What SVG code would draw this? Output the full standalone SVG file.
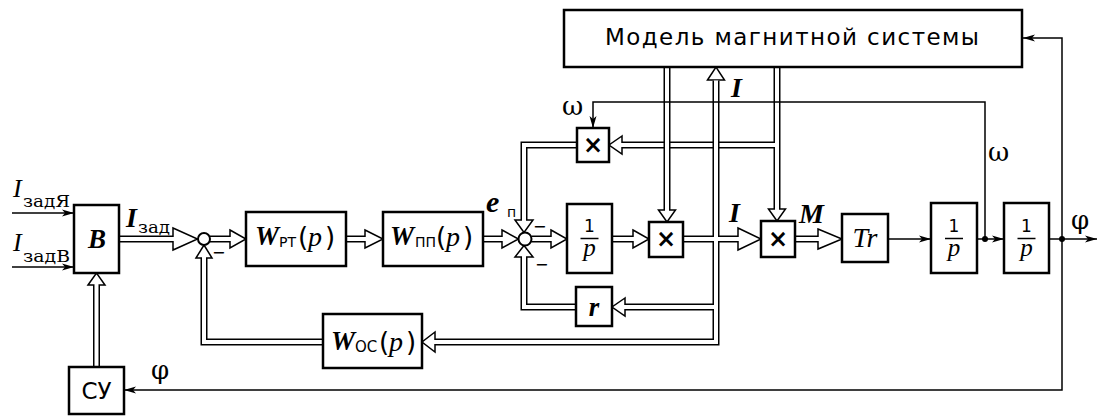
<svg xmlns="http://www.w3.org/2000/svg" width="1099" height="416" viewBox="0 0 1099 416">
<defs>
<marker id="ah" markerUnits="userSpaceOnUse" markerWidth="13" markerHeight="8" refX="12" refY="4" orient="auto">
<path d="M0,0.5 L12,4 L0,7.5 L3,4 z" fill="#000"/>
</marker>
</defs>
<style>
.bx{fill:#fff;stroke:#000;stroke-width:2.5}
.o{fill:none;stroke:#000;stroke-width:7}
.i{fill:none;stroke:#fff;stroke-width:4}
.h{fill:#fff;stroke:#000;stroke-width:1.5;stroke-linejoin:miter}
.s{fill:none;stroke:#000;stroke-width:1.5}
.sum{fill:#fff;stroke:#000;stroke-width:2}
.dot{fill:#000}
text{fill:#000}
.bi{font-family:"Liberation Serif",serif;font-weight:bold;font-style:italic;font-size:26px}
.it{font-family:"Liberation Serif",serif;font-style:italic;font-size:26px}
.sr{font-family:"DejaVu Serif",serif;font-size:17px}
.gr{font-family:"DejaVu Serif",serif;font-size:26px}
.sn{font-family:"DejaVu Sans",sans-serif}
.sub{font-family:"DejaVu Sans",sans-serif;font-size:14px}
.par{font-family:"DejaVu Sans",sans-serif;font-size:26px}
.x{font-family:"DejaVu Sans",sans-serif;font-weight:bold;font-size:24px;text-anchor:middle}
.one{font-family:"DejaVu Sans",sans-serif;font-size:17px;text-anchor:middle}
.pp{font-family:"Liberation Serif",serif;font-style:italic;font-size:25px;text-anchor:middle}
.mn{font-family:"DejaVu Sans",sans-serif;font-size:16px}
</style>
<rect width="1099" height="416" fill="#fff"/>

<g id="connectors">
  <g id="c-b-sum1"><path class="o" d="M119,239 H174"/><polygon class="h" points="173,228 197.5,239 173,250"/><path class="i" d="M119,239 H174.5"/></g>
  <g id="c-sum1-wrt"><path class="o" d="M210,239 H231"/><polygon class="h" points="230,230 246,239 230,248"/><path class="i" d="M210,239 H231.5"/></g>
  <g id="c-wrt-wpp"><path class="o" d="M346,239 H366"/><polygon class="h" points="365,230 383,239 365,248"/><path class="i" d="M346,239 H366.5"/></g>
  <g id="c-wpp-sum2"><path class="o" d="M483,239 H503"/><polygon class="h" points="502,230 518.5,239 502,248"/><path class="i" d="M483,239 H503.5"/></g>
  <g id="c-sum2-int"><path class="o" d="M531.5,239 H552"/><polygon class="h" points="551,230 567,239 551,248"/><path class="i" d="M531.5,239 H552.5"/></g>
  <g id="c-int-xmid"><path class="o" d="M612,239 H634"/><polygon class="h" points="633,230 649,239 633,248"/><path class="i" d="M612,239 H634.5"/></g>
  <g id="c-r-sum2"><path class="o" d="M576,307 H524 V256"/><polygon class="h" points="515,257 524,245.5 533,257"/><path class="i" d="M576,307 H524 V255.5"/></g>
  <g id="c-xtop-sum2"><path class="o" d="M577,145 H524 V221"/><polygon class="h" points="515,220 524,232.5 533,220"/><path class="i" d="M577,145 H524 V221.5"/></g>
  <g id="c-woc-sum1"><path class="o" d="M323,342 H204 V257"/><polygon class="h" points="196,258 204,245 212,258"/><path class="i" d="M323,342 H204 V256.5"/></g>
  <g id="c-model-xright"><path class="o" d="M777,67 V210 M777,145 H621"/><polygon class="h" points="768.5,209 777,221 785.5,209"/><polygon class="h" points="622,136 609,145 622,154"/><path class="i" d="M777,66 V210.5 M777,145 H620.5"/></g>
  <g id="c-model-xmid"><path class="o" d="M667,67 V211"/><polygon class="h" points="658.5,210 667,222 675.5,210"/><path class="i" d="M667,66 V211.5"/></g>
  <g id="c-i-tree"><path class="o" d="M683,239 H739 M716,81 V342 H434 M716,307 H624"/><polygon class="h" points="738,228 761,239 738,250"/><polygon class="h" points="707.5,80 716,67 724.5,80"/><polygon class="h" points="435,332 422,342 435,352"/><polygon class="h" points="625,298 612,307 625,316"/><path class="i" d="M683,239 H739.5 M716,80.5 V342 H433.5 M716,307 H623.5"/></g>
  <g id="c-xright-tr"><path class="o" d="M795,239 H819"/><polygon class="h" points="818,229 842,239 818,249"/><path class="i" d="M795,239 H819.5"/></g>
  <g id="c-su-b"><path class="o" d="M96.5,367 V284"/><polygon class="h" points="88,285 96.5,273 105,285"/><path class="i" d="M96.5,367 V283.5"/></g>
  <path class="s" marker-end="url(#ah)" d="M12,213 H74"/>
  <path class="s" marker-end="url(#ah)" d="M12,267 H74"/>
  <path class="s" marker-end="url(#ah)" d="M1062,239 V38 H1023"/>
  <path class="s" marker-end="url(#ah)" d="M1062,239 V390 H124"/>
  <path class="s" marker-end="url(#ah)" d="M888,239 H931"/>
  <path class="s" marker-end="url(#ah)" d="M977,239 H1004"/>
  <path class="s" marker-end="url(#ah)" d="M1049,239 H1097"/>
  <path class="s" marker-end="url(#ah)" d="M985,239 V102 H593 V128"/>
  <circle class="dot" cx="985" cy="239" r="3"/>
  <circle class="dot" cx="1062" cy="239" r="3"/>
</g>

<g id="labels">
  <text class="it" x="13" y="197">I</text><text class="sr" x="23" y="207" textLength="47" lengthAdjust="spacingAndGlyphs">задЯ</text>
  <text class="it" x="13" y="251">I</text><text class="sr" x="23" y="262" textLength="47" lengthAdjust="spacingAndGlyphs">задВ</text>
  <text class="bi" x="126" y="227" style="font-size:28px">I</text><text class="sr" x="138" y="233" textLength="32" lengthAdjust="spacingAndGlyphs">зад</text>
  <text class="bi" x="486" y="212" style="font-size:30px">e</text><text class="sub" x="507" y="217">п</text>
  <text class="bi" x="731" y="97" style="font-size:28px">I</text>
  <text class="bi" x="729" y="222" style="font-size:28px">I</text>
  <text class="bi" x="799" y="223" style="font-size:28px">M</text>
  <text class="gr" x="562" y="115">ω</text>
  <text class="gr" x="988" y="161">ω</text>
  <text class="gr" x="1071" y="229">φ</text>
  <text class="gr" x="151" y="379">φ</text>
  <text class="mn" x="212" y="258">−</text>
  <text class="mn" x="533" y="232">−</text>
  <text class="mn" x="535" y="270">−</text>
</g>

<g id="sum1"><circle class="sum" cx="204" cy="239" r="6"/></g>
<g id="sum2"><circle class="sum" cx="525" cy="239" r="6.5"/></g>

<g id="model">
  <rect class="bx" x="564" y="10" width="458" height="57"/>
  <text class="sn" x="605" y="45" style="font-size:23px" textLength="374" lengthAdjust="spacing">Модель магнитной системы</text>
</g>
<g id="B">
  <rect class="bx" x="74" y="205" width="45" height="68"/>
  <text class="bi" x="97" y="248" text-anchor="middle" style="font-size:27px">B</text>
</g>
<g id="SU">
  <rect class="bx" x="69" y="367" width="55" height="47"/>
  <text class="sn" x="96.5" y="399" text-anchor="middle" style="font-size:23px">СУ</text>
</g>
<g id="W_RT">
  <rect class="bx" x="246" y="212" width="100" height="54"/>
  <text class="bi" x="255" y="245" style="font-size:27px">W</text><text class="sub" x="279" y="247">РТ</text>
  <text class="par" x="298" y="246">(</text><text class="it" x="308" y="246" style="font-size:28px">p</text><text class="par" x="325" y="246">)</text>
</g>
<g id="W_PP">
  <rect class="bx" x="383" y="212" width="100" height="54"/>
  <text class="bi" x="390" y="245" style="font-size:27px">W</text><text class="sub" x="415" y="247">ПП</text>
  <text class="par" x="436" y="246">(</text><text class="it" x="446" y="246" style="font-size:28px">p</text><text class="par" x="463" y="246">)</text>
</g>
<g id="W_OC">
  <rect class="bx" x="323" y="314" width="99" height="54"/>
  <text class="bi" x="331" y="350" style="font-size:27px">W</text><text class="sub" x="355" y="352" style="font-size:15px">ОС</text>
  <text class="par" x="379" y="351">(</text><text class="it" x="389" y="351" style="font-size:28px">p</text><text class="par" x="406" y="351">)</text>
</g>
<g id="mul_omega">
  <rect class="bx" x="577" y="128" width="32" height="34"/>
  <text class="x" x="593" y="153">×</text>
</g>
<g id="int1">
  <rect class="bx" x="567" y="204" width="45" height="69"/>
  <text class="one" x="589.5" y="232">1</text>
  <line class="s" x1="580.5" y1="238.5" x2="598.5" y2="238.5"/>
  <text class="pp" x="589.5" y="256">p</text>
</g>
<g id="r">
  <rect class="bx" x="576" y="287" width="36" height="39"/>
  <text class="bi" x="594" y="316" text-anchor="middle" style="font-size:27px">r</text>
</g>
<g id="mul_mid">
  <rect class="bx" x="649" y="222" width="34" height="35"/>
  <text class="x" x="666" y="247">×</text>
</g>
<g id="mul_right">
  <rect class="bx" x="761" y="221" width="34" height="36"/>
  <text class="x" x="778" y="247">×</text>
</g>
<g id="Tr">
  <rect class="bx" x="842" y="214" width="46" height="48"/>
  <text class="it" x="865" y="247" text-anchor="middle" style="font-size:28px">Tr</text>
</g>
<g id="int2">
  <rect class="bx" x="931" y="203" width="46" height="70"/>
  <text class="one" x="954" y="232">1</text>
  <line class="s" x1="945" y1="238.5" x2="963" y2="238.5"/>
  <text class="pp" x="954" y="256">p</text>
</g>
<g id="int3">
  <rect class="bx" x="1004" y="203" width="45" height="70"/>
  <text class="one" x="1026.5" y="232">1</text>
  <line class="s" x1="1017.5" y1="238.5" x2="1035.5" y2="238.5"/>
  <text class="pp" x="1026.5" y="256">p</text>
</g>
</svg>
